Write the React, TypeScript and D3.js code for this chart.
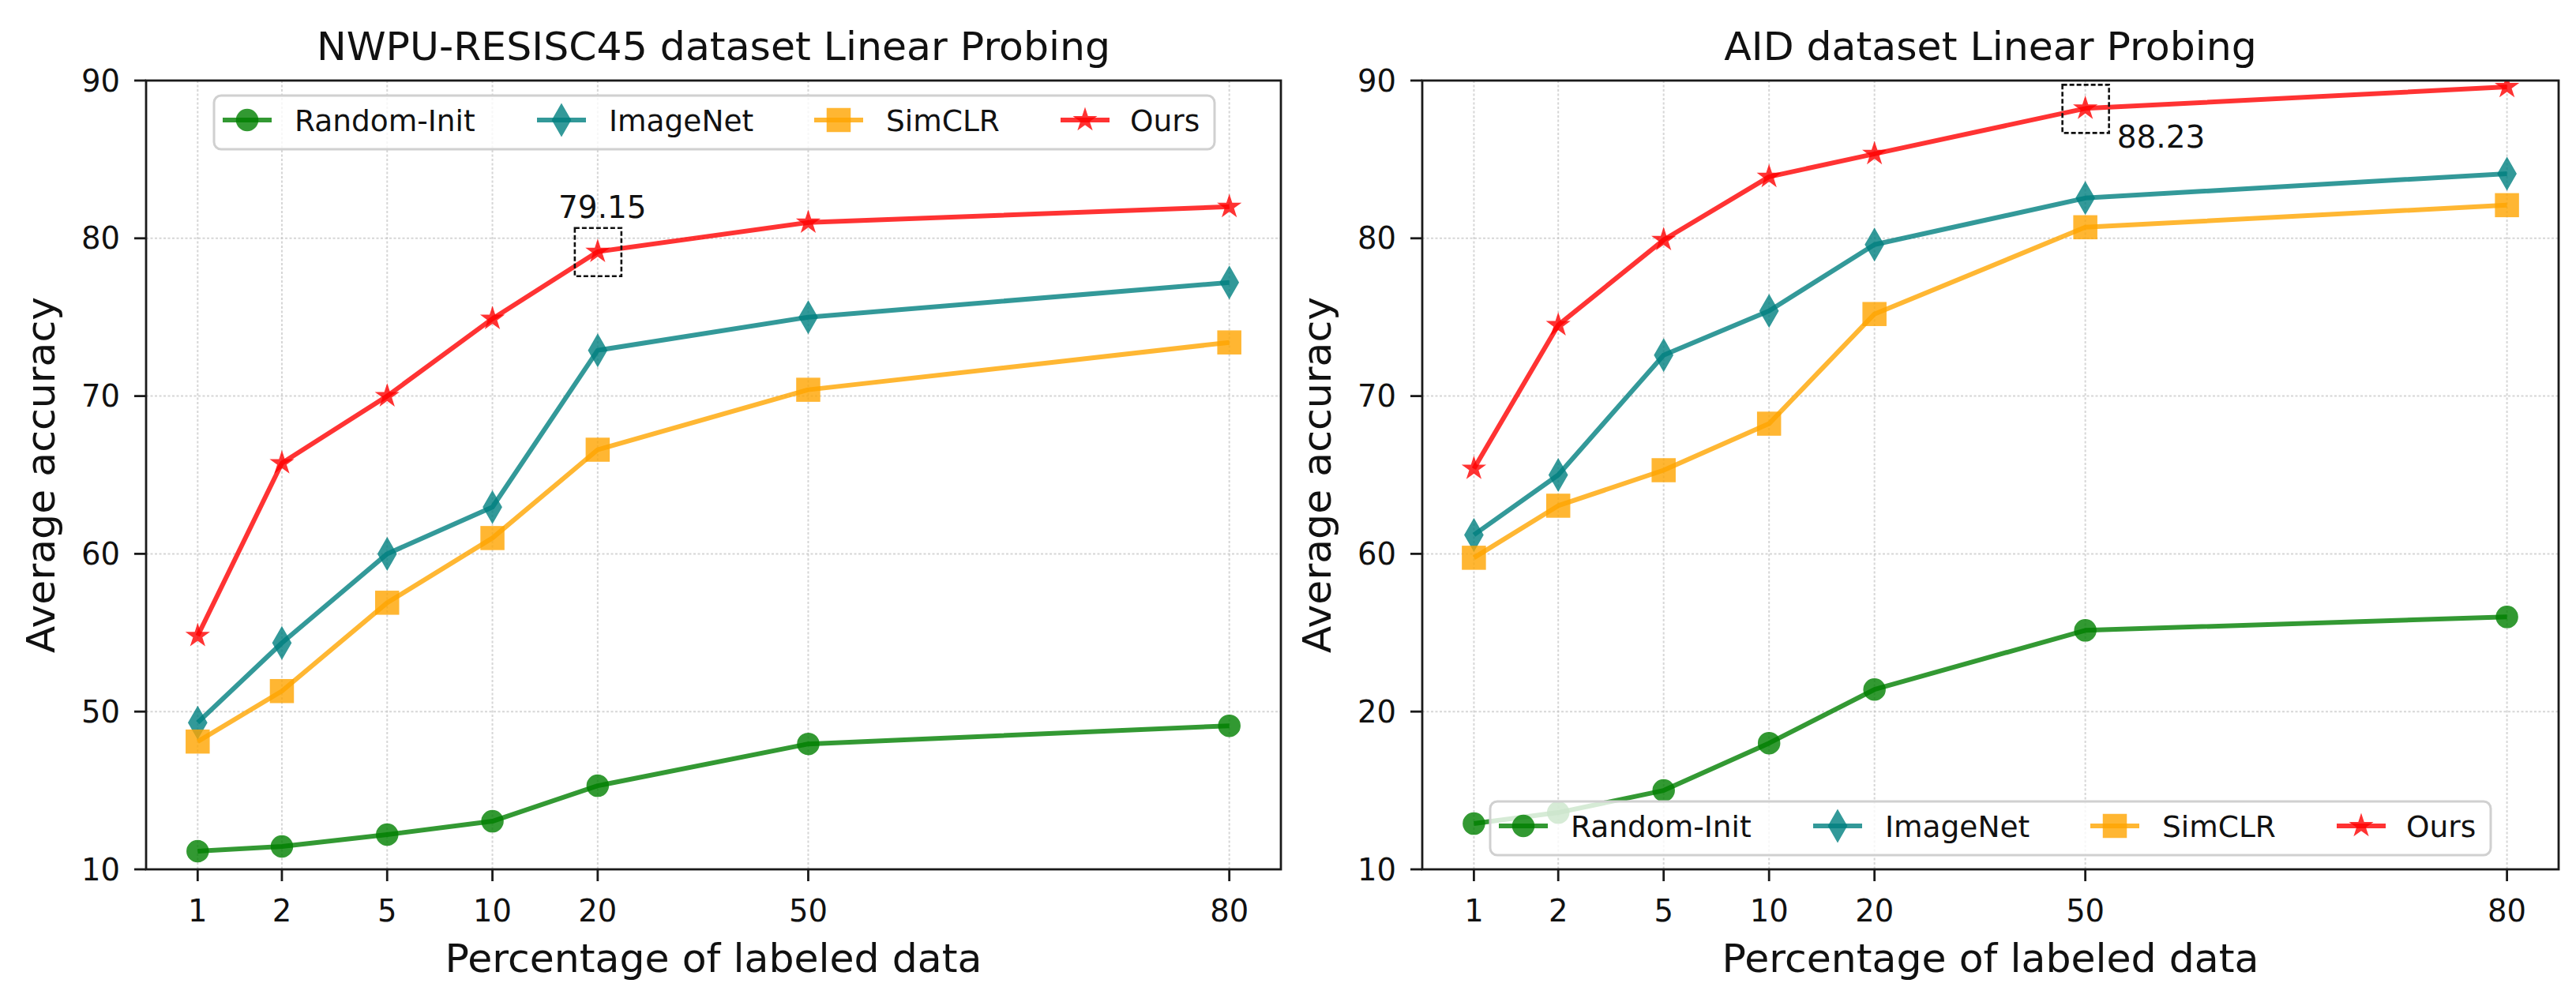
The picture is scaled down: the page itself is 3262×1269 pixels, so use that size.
import React from "react";
import * as d3 from "d3";

// ---------- data ----------
const X_LABELS = ["1", "2", "5", "10", "20", "50", "80"];
const SERIES_NAMES = ["Random-Init", "ImageNet", "SimCLR", "Ours"];

const NWPU_RANDOM = [11.15, 11.45, 12.2, 13.05, 15.3, 17.95, 19.1];
const NWPU_IMAGENET = [49.3, 54.35, 60.0, 62.96, 72.9, 75.0, 77.2];
const NWPU_SIMCLR = [48.1, 51.3, 56.9, 61.0, 66.6, 70.4, 73.4];
const NWPU_OURS = [54.8, 65.75, 70.0, 74.9, 79.15, 81.0, 82.0];

const AID_RANDOM = [12.9, 13.6, 15.0, 18.0, 21.4, 25.15, 26.0];
const AID_IMAGENET = [61.2, 65.0, 72.6, 75.4, 79.6, 82.55, 84.1];
const AID_SIMCLR = [59.75, 63.05, 65.3, 68.25, 75.2, 80.7, 82.1];
const AID_OURS = [65.4, 74.5, 79.9, 83.9, 85.35, 88.23, 89.6];

// y axis is broken: ticks are evenly spaced, Random-Init sits below the break
const Y_TICK_POS = [40, 50, 60, 70, 80, 90];
const NWPU_Y_LABELS = ["10", "50", "60", "70", "80", "90"];
const AID_Y_LABELS = ["10", "20", "60", "70", "80", "90"];
const RANDOM_SHIFT = 30;

// ---------- layout / style ----------
const X_SLOTS = [0, 0.8, 1.8, 2.8, 3.8, 5.8, 9.8];
const COLORS = ["#008000", "#008080", "#FFA500", "#FF0000"];
const MARKERS = ["circle", "diamond", "square", "star"];
const W = 3262;
const H = 1269;
const TOP = 102;
const BOTTOM = 1101;
const FONT = "DejaVu Sans, sans-serif";
const ALPHA = 0.8;
const LW = 6;

type PanelDef = {
  title: string;
  x0: number;
  x1: number;
  yLabels: string[];
  values: number[][];
  legendTop: number;
  ann: { idx: number; text: string; dx: number; dy: number; anchor: string };
};

const PANELS: PanelDef[] = [
  {
    title: "NWPU-RESISC45 dataset Linear Probing",
    x0: 185,
    x1: 1622,
    yLabels: NWPU_Y_LABELS,
    values: [NWPU_RANDOM, NWPU_IMAGENET, NWPU_SIMCLR, NWPU_OURS],
    legendTop: 121,
    ann: { idx: 4, text: "79.15", dx: 6, dy: -43, anchor: "middle" },
  },
  {
    title: "AID dataset Linear Probing",
    x0: 1801,
    x1: 3240,
    yLabels: AID_Y_LABELS,
    values: [AID_RANDOM, AID_IMAGENET, AID_SIMCLR, AID_OURS],
    legendTop: 1015,
    ann: { idx: 5, text: "88.23", dx: 40, dy: 50, anchor: "start" },
  },
];

const starPath = d3.symbol(d3.symbolStar, 220)() as string;

function Marker({ kind, x, y, color }: { kind: string; x: number; y: number; color: string }) {
  const common = { fill: color, stroke: color, strokeWidth: 1.5, opacity: ALPHA };
  if (kind === "circle") return <circle cx={x} cy={y} r={13.5} {...common} />;
  if (kind === "square") return <rect x={x - 14.5} y={y - 14.5} width={29} height={29} {...common} />;
  if (kind === "diamond")
    return <path d={`M${x},${y - 20}L${x + 11.5},${y}L${x},${y + 20}L${x - 11.5},${y}Z`} {...common} />;
  return <path d={starPath} transform={`translate(${x},${y})`} {...common} />;
}

const LEGEND_MARK = [42, 440, 791, 1103];
const LEGEND_TEXT = [102, 500, 851, 1160];

function Panel({ p, i }: { p: PanelDef; i: number }) {
  const span = X_SLOTS[X_SLOTS.length - 1];
  const x = d3
    .scaleLinear()
    .domain([-0.05 * span, span * 1.05])
    .range([p.x0, p.x1]);
  const y = d3.scaleLinear().domain([40, 90]).range([BOTTOM, TOP]);
  const clipId = `clip${i}`;
  const line = d3
    .line<number>()
    .x((_, k) => x(X_SLOTS[k]))
    .y((v) => y(v));
  const shifted = p.values.map((vals, s) => (s === 0 ? vals.map((v) => v + RANDOM_SHIFT) : vals));
  const cx = (p.x0 + p.x1) / 2;
  const ax = x(X_SLOTS[p.ann.idx]);
  const ay = y(shifted[3][p.ann.idx]);
  const lx = p.x0 + 86;
  const ly = p.legendTop;

  return (
    <g>
      <defs>
        <clipPath id={clipId}>
          <rect x={p.x0} y={TOP} width={p.x1 - p.x0} height={BOTTOM - TOP} />
        </clipPath>
      </defs>
      {/* grid */}
      {X_SLOTS.map((s, k) => (
        <line key={"gx" + k} x1={x(s)} x2={x(s)} y1={TOP} y2={BOTTOM} stroke="#c4c4c4" strokeOpacity={0.7} strokeWidth={2} strokeDasharray="3,2.5" />
      ))}
      {Y_TICK_POS.map((t, k) => (
        <line key={"gy" + k} x1={p.x0} x2={p.x1} y1={y(t)} y2={y(t)} stroke="#c4c4c4" strokeOpacity={0.7} strokeWidth={2} strokeDasharray="3,2.5" />
      ))}
      {/* series */}
      <g clipPath={`url(#${clipId})`}>
        {shifted.map((vals, s) => (
          <path key={"l" + s} d={line(vals) as string} fill="none" stroke={COLORS[s]} strokeWidth={LW} strokeOpacity={ALPHA} strokeLinejoin="round" />
        ))}
        {shifted.map((vals, s) =>
          vals.map((v, k) => <Marker key={`m${s}-${k}`} kind={MARKERS[s]} x={x(X_SLOTS[k])} y={y(v)} color={COLORS[s]} />)
        )}
      </g>
      {/* annotation */}
      <rect x={ax - 29} y={ay - 30} width={59} height={61} fill="none" stroke="#111" strokeWidth={2.6} strokeDasharray="6,3" />
      <text x={ax + p.ann.dx} y={ay + p.ann.dy} textAnchor={p.ann.anchor} fontFamily={FONT} fontSize={39} fill="#111">
        {p.ann.text}
      </text>
      {/* spines */}
      <rect x={p.x0} y={TOP} width={p.x1 - p.x0} height={BOTTOM - TOP} fill="none" stroke="#1a1a1a" strokeWidth={2.8} />
      {/* y ticks */}
      {Y_TICK_POS.map((t, k) => (
        <g key={"yt" + k}>
          <line x1={p.x0 - 15} x2={p.x0} y1={y(t)} y2={y(t)} stroke="#1a1a1a" strokeWidth={2.8} />
          <text x={p.x0 - 33} y={y(t)} textAnchor="end" dominantBaseline="central" fontFamily={FONT} fontSize={38.5} fill="#111">
            {p.yLabels[k]}
          </text>
        </g>
      ))}
      {/* x ticks */}
      {X_SLOTS.map((s, k) => (
        <g key={"xt" + k}>
          <line x1={x(s)} x2={x(s)} y1={BOTTOM} y2={BOTTOM + 15} stroke="#1a1a1a" strokeWidth={2.8} />
          <text x={x(s)} y={1167} textAnchor="middle" fontFamily={FONT} fontSize={38.5} fill="#111">
            {X_LABELS[k]}
          </text>
        </g>
      ))}
      {/* labels */}
      <text x={cx} y={76} textAnchor="middle" fontFamily={FONT} fontSize={50.5} fill="#111">
        {p.title}
      </text>
      <text x={cx} y={1231} textAnchor="middle" fontFamily={FONT} fontSize={50.5} fill="#111">
        Percentage of labeled data
      </text>
      <text transform={`translate(${p.x0 - 116},${(TOP + BOTTOM) / 2}) rotate(-90)`} textAnchor="middle" fontFamily={FONT} fontSize={50.5} fill="#111">
        Average accuracy
      </text>
      {/* legend */}
      <g>
        <rect x={lx} y={ly} width={1267} height={68} rx={9} fill="#ffffff" fillOpacity={0.8} stroke="#d0d0d0" strokeWidth={3} />
        {SERIES_NAMES.map((n, s) => (
          <g key={"lg" + s}>
            <line x1={lx + LEGEND_MARK[s] - 31} x2={lx + LEGEND_MARK[s] + 31} y1={ly + 31} y2={ly + 31} stroke={COLORS[s]} strokeWidth={LW} strokeOpacity={ALPHA} />
            <Marker kind={MARKERS[s]} x={lx + LEGEND_MARK[s]} y={ly + 31} color={COLORS[s]} />
            <text x={lx + LEGEND_TEXT[s]} y={ly + 32} dominantBaseline="central" fontFamily={FONT} fontSize={37.5} fill="#111">
              {n}
            </text>
          </g>
        ))}
      </g>
    </g>
  );
}

export default function App() {
  return (
    <svg width={W} height={H} viewBox={`0 0 ${W} ${H}`} style={{ position: "absolute", left: 0, top: 0, background: "#fff" }}>
      <rect width={W} height={H} fill="#fff" />
      {PANELS.map((p, i) => (
        <Panel key={i} p={p} i={i} />
      ))}
    </svg>
  );
}
